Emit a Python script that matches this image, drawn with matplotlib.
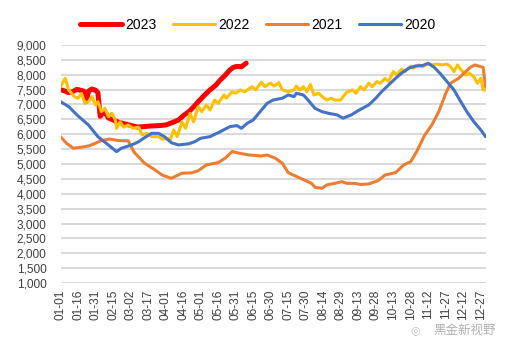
import datetime as dt
import matplotlib
matplotlib.use('Agg')
import matplotlib.pyplot as plt
from matplotlib.ticker import FuncFormatter

plt.rcParams['font.family'] = ['Liberation Sans', 'Noto Sans CJK SC', 'DejaVu Sans']

# 数据：x 为一年中的第几天（0 = 01-01），y 为数值
days_2023 = [0, 4, 7, 10, 14, 17, 20, 22, 24, 27, 30, 32, 34, 36, 38, 41, 45, 50, 55, 60,
             66, 72, 78, 84, 90, 95, 101, 106, 110, 114, 118, 123, 128, 133, 137, 141,
             145, 148, 151, 155, 159]
vals_2023 = [7500, 7450, 7400, 7420, 7510, 7480, 7450, 7100, 7450, 7520, 7480, 7400, 6600,
             6700, 6760, 6550, 6480, 6400, 6350, 6300, 6240, 6260, 6280, 6290, 6310, 6380,
             6480, 6650, 6760, 6920, 7095, 7300, 7490, 7650, 7830, 7980, 8160, 8250, 8280,
             8270, 8390]

days_2022 = [0, 4, 7, 12, 15, 18, 21, 24, 27, 30, 32, 35, 38, 41, 44, 47, 48, 51, 54, 58,
             62, 67, 70, 74, 78, 84, 87, 92, 94, 97, 100, 104, 107, 111, 114, 118, 121, 125,
             128, 132, 135, 140, 142, 147, 150, 154, 158, 160, 164, 167, 172, 175, 180, 183,
             187, 190, 195, 200, 202, 205, 208, 211, 214, 217, 221, 224, 228, 232, 235, 240,
             242, 245, 250, 253, 257, 260, 264, 267, 271, 274, 278, 281, 285, 288, 292, 295,
             300, 302, 307, 310, 314, 318, 322, 327, 331, 334, 337, 340, 342, 347, 350, 354,
             357, 360, 362, 364]
vals_2022 = [7600, 7880, 7490, 7260, 7210, 7370, 7040, 7100, 7260, 6985, 7095, 6760, 6870,
             6590, 6700, 6480, 6200, 6420, 6240, 6310, 6200, 6235, 5975, 6030, 5920, 5920,
             5830, 5865, 5810, 6145, 5920, 6420, 6200, 6700, 6420, 6930, 6760, 6985, 6815,
             7150, 7040, 7320, 7210, 7430, 7377, 7490, 7430, 7490, 7600, 7490, 7750, 7600,
             7720, 7620, 7735, 7490, 7430, 7490, 7620, 7490, 7600, 7430, 7680, 7320, 7377,
             7265, 7150, 7210, 7150, 7150, 7265, 7400, 7490, 7380, 7600, 7490, 7715, 7600,
             7770, 7715, 7880, 7770, 8105, 8000, 8185, 8100, 8295, 8220, 8330, 8270, 8360,
             8330, 8360, 8330, 8360, 8270, 8105, 8330, 8220, 7990, 8050, 7935, 7715, 7880,
             7490, 7490]

days_2021 = [0, 5, 11, 17, 24, 30, 35, 42, 50, 58, 63, 72, 81, 87, 95, 104, 112, 118, 125,
             135, 141, 147, 151, 161, 172, 177, 184, 190, 195, 201, 210, 215, 218, 224, 228,
             235, 241, 245, 252, 257, 264, 272, 278, 287, 294, 300, 305, 312, 318, 324, 330,
             334, 341, 347, 351, 355, 360, 362, 364]
vals_2021 = [5920, 5700, 5530, 5560, 5605, 5700, 5785, 5840, 5785, 5780, 5400, 5025, 4800,
             4630, 4520, 4690, 4700, 4775, 4970, 5045, 5195, 5420, 5380, 5305, 5270, 5300,
             5195, 5025, 4710, 4600, 4440, 4350, 4215, 4185, 4295, 4350, 4405, 4350, 4350,
             4310, 4330, 4440, 4630, 4710, 4970, 5080, 5415, 5975, 6310, 6760, 7377, 7715,
             7880, 8105, 8250, 8330, 8270, 8250, 7600]

days_2020 = [0, 7, 15, 24, 32, 41, 48, 52, 61, 67, 72, 78, 84, 89, 95, 101, 110, 115, 120,
             128, 137, 145, 151, 155, 160, 165, 171, 177, 182, 190, 195, 200, 202, 208, 212,
             218, 224, 230, 237, 242, 249, 255, 264, 270, 275, 281, 287, 292, 298, 304, 310,
             315, 320, 325, 331, 337, 342, 348, 354, 360, 364]
vals_2020 = [7095, 6930, 6615, 6310, 5920, 5640, 5415, 5530, 5640, 5750, 5885, 6030, 6030,
             5920, 5715, 5640, 5680, 5750, 5865, 5920, 6090, 6255, 6290, 6200, 6370, 6480,
             6760, 7040, 7150, 7210, 7320, 7265, 7377, 7320, 7150, 6870, 6760, 6700, 6650,
             6540, 6650, 6795, 6985, 7210, 7430, 7655, 7880, 8050, 8215, 8295, 8310, 8385,
             8250, 8050, 7770, 7490, 7150, 6760, 6420, 6145, 5920]

series = [
    ('2023', days_2023, vals_2023, '#FF0000', 3.6),
    ('2022', days_2022, vals_2022, '#FFC000', 2.2),
    ('2021', days_2021, vals_2021, '#ED7D31', 2.2),
    ('2020', days_2020, vals_2020, '#4472C4', 2.2),
]

# x轴刻度：每15天一个，01-01 到 12-27
tick_days = list(range(0, 361, 15))
start = dt.date(2023, 1, 1)
tick_labels = [(start + dt.timedelta(days=d)).strftime('%m-%d') for d in tick_days]

fig = plt.figure(figsize=(5.09, 3.51), dpi=100)
ax = fig.add_axes([60.5 / 509, 68 / 351, 425 / 509, 238 / 351])

for name, d, v, c, lw in series:
    ax.plot(d, v, color=c, lw=lw, label=name, solid_joinstyle='round', solid_capstyle='round')

ax.set_xlim(0, 364)
ax.set_ylim(1000, 9000)
ax.set_yticks(range(1000, 9001, 500))
ax.yaxis.set_major_formatter(FuncFormatter(lambda v, p: f'{int(v):,}'))
ax.set_xticks(tick_days)
ax.set_xticklabels(tick_labels, rotation=90)
ax.tick_params(axis='both', length=0, labelsize=8.6, colors='#404040')
ax.tick_params(axis='y', pad=10)
ax.tick_params(axis='x', pad=5)
ax.grid(axis='y', color='#D9D9D9', lw=1.4)
ax.set_axisbelow(True)
for s in ax.spines.values():
    s.set_visible(False)

fig.legend(loc='center', bbox_to_anchor=(258 / 509, 1 - 25 / 351), ncol=4, frameon=False,
           fontsize=10, handlelength=3.0, handletextpad=0.25, columnspacing=1.2)

fig.text(410 / 509, 1 - 330 / 351, '◎', color='#c0c0c0', fontsize=8, va='center',
         family=['DejaVu Sans'])
fig.text(433 / 509, 1 - 330 / 351, '黑金新视野', color='#b0b0b0', fontsize=9, va='center',
         family=['Noto Sans CJK SC', 'DejaVu Sans'])

fig.savefig('out.png', dpi=100)
